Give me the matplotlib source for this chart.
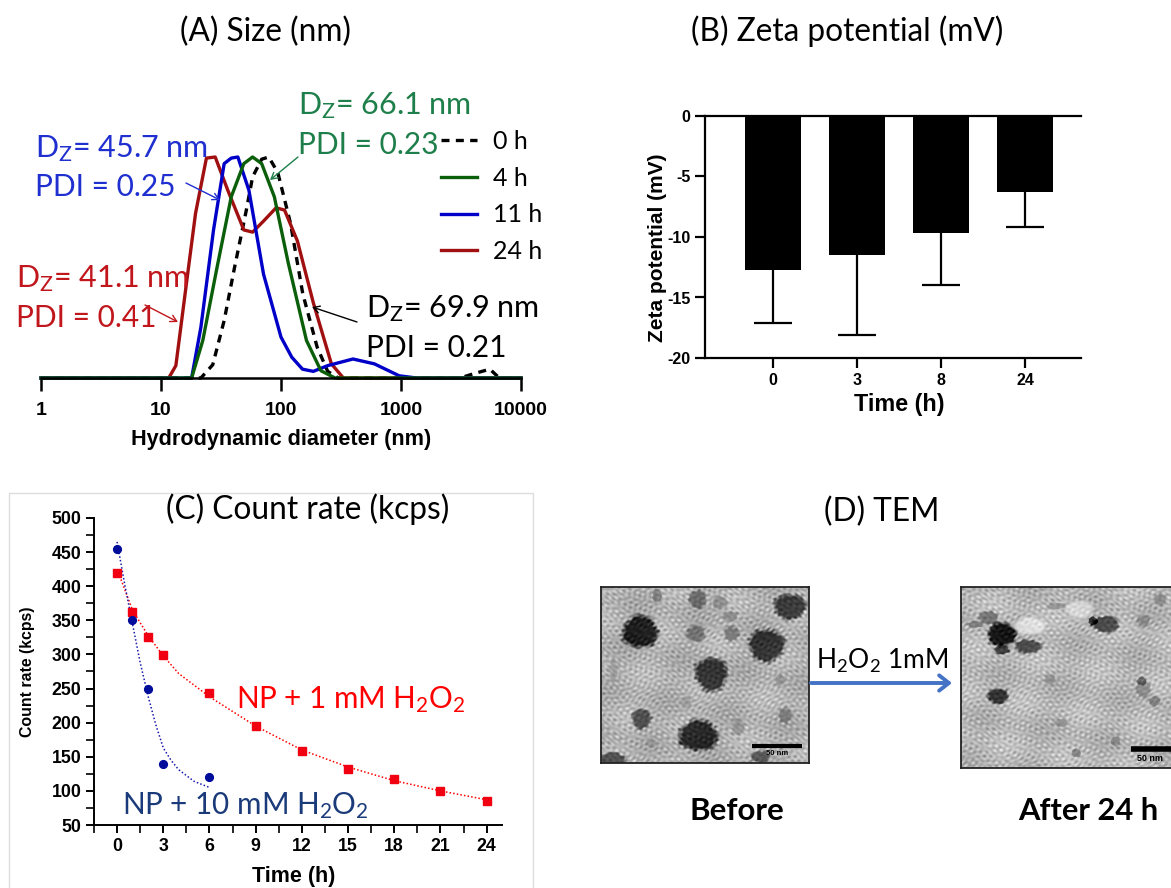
import numpy as np
import matplotlib
matplotlib.use("Agg")
import matplotlib.pyplot as plt
from matplotlib.ticker import FixedLocator

W, H = 1171, 888
plt.rcParams['font.family'] = ['Lato', 'DejaVu Sans']
plt.rcParams['mathtext.fontset'] = 'custom'
plt.rcParams['mathtext.rm'] = 'Lato'
plt.rcParams['mathtext.default'] = 'rm'
ARIAL = 'Liberation Sans'

# ---- Panel A data: hydrodynamic diameter (nm) / intensity (relative)
d0 = [1, 21.5, 27, 33.6, 41, 51, 58, 69, 79, 94, 120, 152, 200, 245, 300, 3100, 4070, 5500, 6600, 10000]
i0 = [0, 0, 6, 26, 50, 75, 91, 99, 100, 93, 70, 38, 14, 3, 0, 0, 2, 4, 0, 0]
d4 = [1, 18, 22.3, 29.3, 38.5, 49, 58, 69, 88, 115, 163, 215, 282, 10000]
i4 = [0, 0, 17, 50, 82, 97, 100, 97, 82, 52, 17, 3.3, 0, 0]
d11 = [1, 18, 21.5, 27.4, 33.6, 38.5, 43.7, 54, 71.5, 100, 123, 151, 186, 245, 398, 600, 966, 1350, 10000]
i11 = [0, 0, 23, 67, 97, 99.5, 100, 85, 47, 18.5, 9.4, 4, 3, 5.6, 8.6, 6.4, 1, 0, 0]
d24 = [1, 11.6, 13.3, 16.4, 19.4, 23.9, 28.3, 36, 49, 58, 71.5, 91, 107, 137, 186, 263, 331, 10000]
i24 = [0, 0, 5.6, 44, 74.5, 99.5, 100, 85, 67, 66, 71, 77, 76, 62, 34, 6.4, 0, 0]
size_ticks = [1, 10, 100, 1000, 10000]
size_labels = ['1', '10', '100', '1000', '10000']

# ---- Panel B data
zeta_times = ['0', '3', '8', '24']
zeta_mean = [-12.7, -11.5, -9.7, -6.3]
zeta_low = [-17.1, -18.1, -14.0, -9.2]

# ---- Panel C data
t_1mM = [0, 1, 2, 3, 6, 9, 12, 15, 18, 21, 24]
cr_1mM = [420, 362, 326, 299, 243, 195, 158, 132, 118, 100, 85]
t_10mM = [0, 1, 2, 3, 6]
cr_10mM = [455, 350, 250, 140, 120]
fit_t_1mM = [0, 1, 2, 3, 4, 6, 9, 12, 15, 18, 21, 24]
fit_cr_1mM = [425, 365, 328, 298, 272, 238, 195, 160, 135, 115, 100, 87]
fit_t_10mM = [0, 0.5, 1, 1.5, 2, 2.5, 3, 3.5, 4, 5, 6]
fit_cr_10mM = [465, 402, 345, 288, 240, 198, 163, 145, 131, 114, 105]

# ---- Panel D blobs (image pixel units: cx, cy, w, h, grey)
before_blobs = [(135,187,95,95,.12),(540,112,85,75,.22),(477,227,95,95,.2),(327,312,85,100,.2),
                (292,495,105,90,.15),(138,445,50,60,.3),(290,90,45,55,.42),(180,80,25,40,.5),
                (285,192,50,50,.45),(382,192,40,45,.48),(350,100,40,40,.55),(378,140,40,30,.55),
                (527,435,35,45,.5),(63,300,22,70,.62),(400,470,30,50,.58),(513,330,25,35,.58),
                (260,395,25,35,.62),(165,518,25,30,.6),(60,565,70,40,.3),(460,558,50,35,.35)]
after_blobs = [(1110,195,75,70,.1),(1180,232,70,40,.3),(1110,240,40,30,.25),(1075,145,50,40,.45),
               (1100,380,55,45,.2),(1390,165,70,50,.28),(1355,155,25,25,.2),(1490,155,35,35,.55),
               (1535,90,30,35,.55),(1490,360,40,50,.55),(1520,395,30,30,.5),(1185,170,80,50,.88),
               (1240,330,30,30,.58),(1270,460,35,25,.58),(1310,550,25,25,.5),(1415,515,25,30,.55),
               (1255,110,50,20,.58),(1485,335,25,25,.4),(1040,165,40,20,.5),(1320,120,70,50,.85)]

fig = plt.figure(figsize=(W/100, H/100), dpi=100, facecolor='white')

def axpx(l, t, r, b, **kw):
    return fig.add_axes([l/W, 1-b/H, (r-l)/W, (b-t)/H], **kw)

ov = fig.add_axes([0, 0, 1, 1], zorder=10)
ov.set_xlim(0, W); ov.set_ylim(H, 0); ov.axis('off'); ov.patch.set_alpha(0)

def txt(x, y, s, size=21, color='black', ha='left', **kw):
    ov.text(x, y+1.5, s, fontsize=size, color=color, ha=ha, va='center', **kw)

def arrow(x0, y0, x1, y1, color):
    ov.annotate('', xy=(x1, y1), xytext=(x0, y0),
                arrowprops=dict(arrowstyle='->,head_length=0.45,head_width=0.25', color=color, lw=1.0,
                                shrinkA=0, shrinkB=0))

# Panel A
a = axpx(41, 157, 521, 378)
a.set_xscale('log'); a.set_xlim(1, 10000); a.set_ylim(0, 100)
LW = 2.4
a.plot(d0, i0, color='black', lw=LW, ls=(0, (2.4, 1.9)), label='0 h', clip_on=False)
a.plot(d24, i24, color='#A01010', lw=LW, label='24 h', clip_on=False)
a.plot(d11, i11, color='#0000C8', lw=LW, label='11 h', clip_on=False)
a.plot(d4, i4, color='#0B5F0B', lw=LW, label='4 h', clip_on=False)
for s in ['top', 'left', 'right']:
    a.spines[s].set_visible(False)
a.spines['bottom'].set_linewidth(1.8)
a.set_yticks([])
a.xaxis.set_major_locator(FixedLocator(size_ticks))
a.xaxis.set_minor_locator(FixedLocator([]))
a.set_xticklabels(size_labels, fontsize=14, fontweight='bold', family=ARIAL)
a.tick_params(axis='x', length=9.5, width=1.8, pad=8)
a.set_xlabel('Hydrodynamic diameter (nm)', fontsize=15.6, fontweight='bold', family=ARIAL, labelpad=7)
hs, ls = a.get_legend_handles_labels()
order = [0, 3, 2, 1]
leg = a.legend([hs[i] for i in order], [ls[i] for i in order], loc='upper left',
               bbox_to_anchor=(441/W, 1-130/H), bbox_transform=fig.transFigure, frameon=False,
               fontsize=18, handlelength=1.44, handletextpad=0.65, labelspacing=0.55,
               borderpad=0, borderaxespad=0)

GREEN, BLUE, RED = '#1E7F4A', '#1F2FD0', '#C0161C'
txt(298, 104, r'D$_{Z}$= 66.1 nm', 22, GREEN)
txt(298, 144, 'PDI = 0.23', 21.5, GREEN)
txt(35, 147, r'D$_{Z}$= 45.7 nm', 22, BLUE)
txt(35, 186, 'PDI = 0.25', 21.5, BLUE)
txt(16, 277, r'D$_{Z}$= 41.1 nm', 22, RED)
txt(16, 316, 'PDI = 0.41', 21.5, RED)
txt(366, 307, r'D$_{Z}$= 69.9 nm', 22, 'black')
txt(366, 346, 'PDI = 0.21', 21.5, 'black')
arrow(186, 183, 220, 200, BLUE)
arrow(298, 157, 270, 180, GREEN)
arrow(145, 305, 178, 322, RED)
arrow(357, 322, 312, 307, 'black')

# Panel B
b = axpx(705, 116, 1081, 358)
pos = np.arange(len(zeta_times))
b.set_xlim(-68/84, 3+56/84); b.set_ylim(-20, 0)
b.bar(pos, zeta_mean, width=56/84, color='black')
eb = b.errorbar(pos, zeta_mean, yerr=[np.array(zeta_mean)-np.array(zeta_low), np.zeros(4)],
                fmt='none', ecolor='black', elinewidth=1.6, capsize=14, capthick=1.6)
eb[1][1].set_visible(False)
b.spines['right'].set_visible(False)
for s in b.spines.values():
    s.set_linewidth(1.6)
b.set_xticks(pos); b.set_xticklabels(zeta_times, fontsize=11.5, fontweight='bold', family=ARIAL)
b.set_yticks([0, -5, -10, -15, -20])
b.set_yticklabels(['0', '-5', '-10', '-15', '-20'], fontsize=11.5, fontweight='bold', family=ARIAL)
b.tick_params(length=7.5, width=1.6, pad=3)
b.set_xlabel('Time (h)', fontsize=16.8, fontweight='bold', family=ARIAL, labelpad=4, x=0.516)
b.set_ylabel('Zeta potential (mV)', fontsize=15, fontweight='bold', family=ARIAL, labelpad=0, y=0.4545)

# Panel C
c = axpx(94, 518, 502, 825)
c.set_xlim(-1.5, 25.0); c.set_ylim(50, 500)
c.plot(fit_t_1mM, fit_cr_1mM, color='#FF0000', lw=1.1, ls=(0, (1, 1.4)))
c.plot(fit_t_10mM, fit_cr_10mM, color='#1A1AB0', lw=1.1, ls=(0, (1, 1.4)))
c.plot(t_1mM, cr_1mM, ls='none', marker='s', ms=5.2, color='#F00010')
c.plot(t_10mM, cr_10mM, ls='none', marker='o', ms=5.6, color='#000C9A')
c.spines['top'].set_visible(False); c.spines['right'].set_visible(False)
c.spines['left'].set_linewidth(1.4); c.spines['bottom'].set_linewidth(1.4)
c.set_xticks(np.arange(0, 25, 3)); c.set_xticks(np.arange(-1.5, 25, 1.5), minor=True)
c.set_yticks(np.arange(50, 501, 50)); c.set_yticks(np.arange(50, 501, 25), minor=True)
c.set_xticklabels([str(v) for v in range(0, 25, 3)], fontsize=12.8, fontweight='bold', family=ARIAL)
c.set_yticklabels([str(v) for v in range(50, 501, 50)], fontsize=12.8, fontweight='bold', family=ARIAL)
c.tick_params(which='major', length=6, width=1.4, pad=3)
c.tick_params(which='minor', length=6, width=1.2)
c.set_xlabel('Time (h)', fontsize=15.5, fontweight='bold', family=ARIAL, labelpad=8.5, x=0.49)
c.set_ylabel('Count rate (kcps)', fontsize=11.4, fontweight='bold', family=ARIAL, labelpad=12)
txt(236, 698, r'NP + 1 mM H$_{2}$O$_{2}$', 21.3, '#FF0000')
txt(122, 804, r'NP + 10 mM H$_{2}$O$_{2}$', 21.3, '#1A3A7A')
ov.plot([9, 9, 533, 533], [888, 493, 493, 888], color='#DDDDDD', lw=1)

# Titles
txt(265, 30, '(A) Size (nm)', 22.8, ha='center')
txt(847, 30, '(B) Zeta potential (mV)', 22.8, ha='center')
txt(308, 508, '(C) Count rate (kcps)', 22.8, ha='center')
txt(882, 510, '(D) TEM', 22.8, ha='center')

# Panel D: micrograph placeholders
def micrograph(l, t, r, b_, x0, x1, y0, y1, blobs, base):
    ax = axpx(l, t, r, b_)
    nx, ny = int(r-l), int(b_-t)
    X0, Y0 = np.meshgrid(np.linspace(x0, x1, nx), np.linspace(y0, y1, ny))
    X = X0 + 9*np.sin(0.031*Y0+0.5)
    Y = Y0 + 9*np.sin(0.037*X0+1.0)
    tex = (np.sin(0.37*X+0.23*Y) + np.sin(0.21*X-0.41*Y+1.3) + np.sin(0.43*X+0.09*Y+2.1)
           + np.sin(0.11*X+0.47*Y+0.7) + np.sin(0.31*X-0.29*Y+4.1) + np.sin(0.17*X+0.35*Y+5.3))
    slow = np.sin(0.023*X0-0.017*Y0+0.4)*np.sin(0.013*X0+0.029*Y0)
    img = base + 0.032*tex + 0.05*slow
    for cx, cy, w, h, g in blobs:
        th = np.arctan2(Y0-cy, X0-cx)
        rr = (np.sqrt(((X0-cx)/(w/2))**2 + ((Y0-cy)/(h/2))**2)
              * (1 + 0.05*np.sin(3*th+cx) + 0.04*np.sin(7*th+cy)) + 0.02*tex)
        m = np.clip((1.15-rr)/0.3, 0, 1)
        img = img*(1-m) + (g + 0.5*(img-base))*m
    ax.imshow(np.clip(img, 0, 1), cmap='gray', vmin=0, vmax=1, aspect='auto',
              extent=(x0, x1, y1, y0), interpolation='bilinear')
    ax.set_xticks([]); ax.set_yticks([])
    for s in ax.spines.values():
        s.set_linewidth(1.3); s.set_color('#222222')
    return ax

micrograph(601, 587, 809, 763, 30, 590, 55, 575, before_blobs, 0.70)
micrograph(961, 587, 1173, 768, 1002, 1568, 55, 593, after_blobs, 0.72)
ov.plot([752, 802], [745.5, 745.5], color='black', lw=3, solid_capstyle='butt')
txt(777, 752, '50 nm', 5.5, ha='center', fontweight='bold', family=ARIAL)
ov.plot([1131, 1171], [749, 749], color='black', lw=4, solid_capstyle='butt')
txt(1150, 757, '50 nm', 6.5, ha='center', fontweight='bold', family=ARIAL)
ov.annotate('', xy=(952, 683), xytext=(811, 683),
            arrowprops=dict(arrowstyle='->,head_length=0.7,head_width=0.55', color='#4472C4', lw=2.8,
                            shrinkA=0, shrinkB=0))
txt(882, 659, r'H$_{2}$O$_{2}$ 1mM', 19, ha='center')
txt(737, 809, 'Before', 22.5, ha='center', fontweight='bold')
txt(1088, 809, 'After 24 h', 22.2, ha='center', fontweight='bold')

fig.savefig('out.png', dpi=100)
